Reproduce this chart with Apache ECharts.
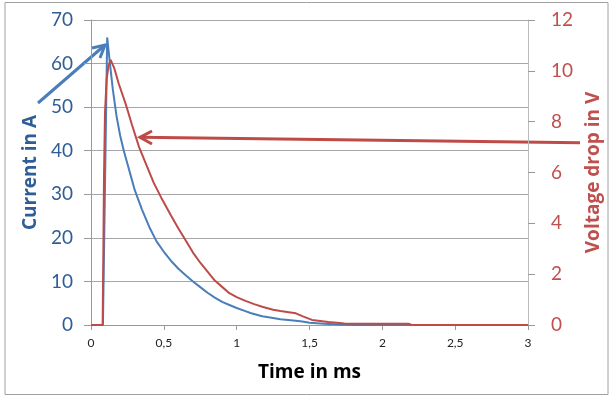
<!DOCTYPE html>
<html>
<head>
<meta charset="utf-8">
<script src="https://cdn.jsdelivr.net/npm/echarts@6/dist/echarts.min.js"></script>
<style>html,body{margin:0;padding:0;background:#fff}#c{width:611px;height:396px}</style>
</head>
<body>
<div id="c"></div>
<script>
var xTicks = ['0','0,5','1','1,5','2','2,5','3'];
var leftTicks = [0,10,20,30,40,50,60,70];
var rightTicks = [0,2,4,6,8,10,12];

var timeCurrent = [0, 0.082, 0.111, 0.13, 0.15, 0.175, 0.2, 0.225, 0.25, 0.275, 0.3, 0.35, 0.4, 0.45, 0.5, 0.55, 0.6, 0.65, 0.7, 0.75, 0.8, 0.85, 0.9, 0.95, 1.0, 1.05, 1.1, 1.175, 1.25, 1.3, 1.406, 1.45, 1.5, 1.6, 1.7, 1.8, 3.0];
var current     = [0, 0,     66,    60,   54,   48,    43.5, 40,    37,   34,    31,  26.5, 22.5, 19.2, 16.8, 14.7, 12.9, 11.4, 10,  8.7,  7.4, 6.3,  5.3, 4.6,  3.9, 3.3,  2.7, 2.0,   1.6,  1.3, 1.0,   0.8,  0.5, 0.3, 0.1, 0,   0];

var timeVoltage = [0, 0.08, 0.085, 0.089, 0.096, 0.107, 0.12, 0.135, 0.16, 0.19, 0.22, 0.244, 0.28, 0.33, 0.38, 0.43, 0.483, 0.55, 0.6, 0.642, 0.7, 0.75, 0.8, 0.85, 0.9, 0.95, 1.0, 1.06, 1.12, 1.175, 1.25, 1.3, 1.406, 1.45, 1.517, 1.63, 1.74, 2.18, 2.2, 3.0];
var voltage     = [0, 0,    3,     5.7,   8.34,  9.64,  10.2, 10.43, 10.1, 9.5,  9.0,  8.59,  7.9,  7.0,  6.3,  5.6,  5.0,   4.3,  3.8, 3.4,   2.85, 2.45, 2.1, 1.75, 1.5, 1.25, 1.1, 0.95, 0.82, 0.72,  0.6,  0.55, 0.46,  0.35, 0.2,   0.12, 0.06, 0.05, 0,   0];

function pairs(xs, ys){ return xs.map(function(x,i){ return [x, ys[i]]; }); }

var chart = echarts.init(document.getElementById('c'));
var blue = '#4a7ebb', red = '#be4b48';
var font = 'Lato, "Open Sans", sans-serif';
var tfont = '"Open Sans", Lato, sans-serif';
chart.setOption({
  animation: false,
  grid: {left: 91, right: 81, top: 20, bottom: 71},
  xAxis: {
    type: 'value', min: 0, max: 3, interval: 0.5,
    name: 'Time in ms', nameLocation: 'middle', nameGap: 38,
    nameTextStyle: {fontFamily: tfont, fontWeight: 'bold', fontSize: 19, color: '#000'},
    axisLine: {lineStyle: {color: '#999', width: 1}},
    axisTick: {show: true, length: 5, lineStyle: {color: '#999'}},
    axisLabel: {margin: 12, fontFamily: font, fontSize: 12, color: '#222',
      formatter: function(v){ return xTicks[Math.round(v*2)]; }},
    splitLine: {show: false}
  },
  yAxis: [{
    type: 'value', min: 0, max: 70, interval: 10, position: 'left',
    name: 'Current in A', nameLocation: 'middle', nameGap: 50, nameRotate: 90,
    nameTextStyle: {fontFamily: tfont, fontWeight: 'bold', fontSize: 19, color: '#2f5d95'},
    axisLine: {show: true, lineStyle: {color: '#999'}},
    axisTick: {show: true, length: 7, lineStyle: {color: '#999'}},
    axisLabel: {margin: 18, fontFamily: font, fontSize: 19, color: '#2f5d95',
      formatter: function(v){ return String(leftTicks[Math.round(v/10)]); }},
    splitLine: {show: true, lineStyle: {color: '#a6a6a6', width: 1}}
  }, {
    type: 'value', min: 0, max: 12, interval: 2, position: 'right',
    name: 'Voltage drop in V', nameLocation: 'middle', nameGap: 52, nameRotate: 90,
    nameTextStyle: {fontFamily: tfont, fontWeight: 'bold', fontSize: 19, color: '#c0504d'},
    axisLine: {show: true, lineStyle: {color: '#bbb'}},
    axisTick: {show: true, length: 7, lineStyle: {color: '#999'}},
    axisLabel: {margin: 23, fontFamily: font, fontSize: 19, color: '#c0504d',
      formatter: function(v){ return String(rightTicks[Math.round(v/2)]); }},
    splitLine: {show: false}
  }],
  series: [{
    type: 'line', yAxisIndex: 0, data: pairs(timeCurrent, current), showSymbol: false,
    lineStyle: {color: blue, width: 2}, itemStyle: {color: blue}
  }, {
    type: 'line', yAxisIndex: 1, data: pairs(timeVoltage, voltage), showSymbol: false,
    lineStyle: {color: red, width: 2}, itemStyle: {color: red}
  }],
  graphic: [
    {type: 'rect', shape: {x: 5, y: 2.5, width: 603, height: 392}, style: {fill: 'none', stroke: '#a0a0a0', lineWidth: 1}, z: -1},
    {type: 'line', shape: {x1: 38, y1: 103, x2: 105, y2: 45}, style: {stroke: blue, lineWidth: 3}},
    {type: 'polyline', shape: {points: [[92, 48], [105, 45], [100, 58]]}, style: {stroke: blue, lineWidth: 3, fill: 'none'}},
    {type: 'line', shape: {x1: 580, y1: 142.7, x2: 140, y2: 137.3}, style: {stroke: red, lineWidth: 3}},
    {type: 'polyline', shape: {points: [[152, 131], [140, 137.3], [152, 144]]}, style: {stroke: red, lineWidth: 3, fill: 'none'}}
  ]
});
</script>
</body>
</html>
